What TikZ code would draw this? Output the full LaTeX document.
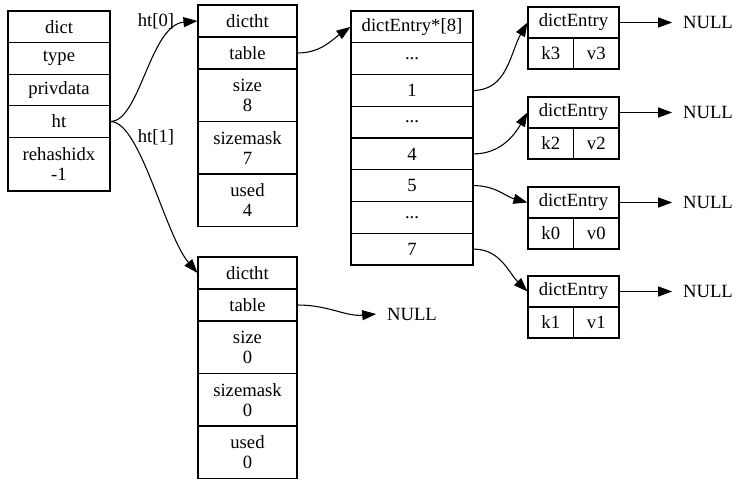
\documentclass[tikz,border=0pt]{standalone}
\usepackage{fontspec}
\setmainfont{Liberation Serif}
\usetikzlibrary{arrows.meta}

\begin{document}
\begin{tikzpicture}[x=0.75pt, y=-0.75pt, every node/.style={font=\fontsize{14}{15}\selectfont}]

		% Fix the page to the size of the drawing
		\useasboundingbox (0,0) rectangle (745,488);

		% Styles for the record fields and the pointers
		\tikzset{
			field/.style={draw, line width=0.8pt, inner sep=0pt, align=center},
			dictfield/.style={field, minimum width=76.5pt, minimum height=23.7pt},
			htfield/.style={field, minimum width=74.25pt, minimum height=24pt},
			htbig/.style={field, minimum width=74.25pt, minimum height=39.4pt},
			slot/.style={field, minimum width=91.5pt, minimum height=23.8pt},
			entryhead/.style={field, minimum width=68.25pt, minimum height=23.25pt},
			entrycell/.style={field, minimum width=34.1pt, minimum height=23.25pt},
			nullnode/.style={inner sep=8pt},
			pointer/.style={line width=0.8pt, -{Triangle[length=10.5pt, width=7.5pt]}}
		};

		% dict
		\node[dictfield] (dict-dict) at (59,26.8) {dict};
		\node[dictfield] (dict-type) at (59,58.4) {type};
		\node[dictfield] (dict-privdata) at (59,90) {privdata};
		\node[dictfield] (dict-ht) at (59,121.6) {ht};
		\node[dictfield, minimum height=40.2pt] (dict-rehash) at (59,164.2) {rehashidx\\-1};

		% dictht ht[0]
		\node[htfield] (ht0-head) at (247.5,21) {dictht};
		\node[htfield] (ht0-table) at (247.5,53) {table};
		\node[htbig] (ht0-size) at (247.5,95.25) {size\\8};
		\node[htbig] (ht0-mask) at (247.5,147.75) {sizemask\\7};
		\node[htbig] (ht0-used) at (247.5,200.25) {used\\4};

		% dictht ht[1]
		\node[htfield] (ht1-head) at (247.5,273) {dictht};
		\node[htfield] (ht1-table) at (247.5,305) {table};
		\node[htbig] (ht1-size) at (247.5,347.25) {size\\0};
		\node[htbig] (ht1-mask) at (247.5,399.75) {sizemask\\0};
		\node[htbig] (ht1-used) at (247.5,452.25) {used\\0};
		\node[nullnode] (ht1-null) at (412,314) {NULL};

		% dictEntry*[8] table
		\node[slot] (tab-head) at (412,26.9) {dictEntry*[8]};
		\node[slot] (tab-dots0) at (412,58.6) {...};
		\node[slot] (tab-1) at (412,90.4) {1};
		\node[slot] (tab-dots1) at (412,122.1) {...};
		\node[slot] (tab-4) at (412,153.9) {4};
		\node[slot] (tab-5) at (412,185.6) {5};
		\node[slot] (tab-dots2) at (412,217.4) {...};
		\node[slot] (tab-7) at (412,249.1) {7};

		% Entry k3/v3
		\node[entryhead] (e3-head) at (573.5,22.5) {dictEntry};
		\node[entrycell] (e3-key) at (550.75,53.5) {k3};
		\node[entrycell] (e3-val) at (596.25,53.5) {v3};
		\node[nullnode] (e3-null) at (708,22.5) {NULL};

		% Entry k2/v2
		\node[entryhead] (e2-head) at (573.5,112.5) {dictEntry};
		\node[entrycell] (e2-key) at (550.75,143.5) {k2};
		\node[entrycell] (e2-val) at (596.25,143.5) {v2};
		\node[nullnode] (e2-null) at (708,112.5) {NULL};

		% Entry k0/v0
		\node[entryhead] (e0-head) at (573.5,202.5) {dictEntry};
		\node[entrycell] (e0-key) at (550.75,233.5) {k0};
		\node[entrycell] (e0-val) at (596.25,233.5) {v0};
		\node[nullnode] (e0-null) at (708,202.5) {NULL};

		% Entry k1/v1
		\node[entryhead] (e1-head) at (573.5,291.5) {dictEntry};
		\node[entrycell] (e1-key) at (550.75,322.5) {k1};
		\node[entrycell] (e1-val) at (596.25,322.5) {v1};
		\node[nullnode] (e1-null) at (708,291.5) {NULL};

		% ht[0] and ht[1] pointers
		\draw[pointer] (dict-ht.east) .. controls (140,121) and (150,25) .. (ht0-head.west);
		\node (lbl-ht0) at (156,21) {ht[0]};
		\draw[pointer] (dict-ht.east) .. controls (140,121) and (165,235) .. (ht1-head.west);
		\node (lbl-ht1) at (156,137) {ht[1]};

		% table pointers
		\draw[pointer] (ht0-table.east) to[out=0, in=215] (tab-head.west);
		\draw[pointer] (ht1-table.east) to[out=0, in=185] (ht1-null.west);

		% buckets to entries
		\draw[pointer] (tab-1.east) to[out=0, in=240] (e3-head.west);
		\draw[pointer] (tab-4.east) to[out=0, in=240] (e2-head.west);
		\draw[pointer] (tab-5.east) to[out=0, in=165] (e0-head.west);
		\draw[pointer] (tab-7.east) to[out=0, in=135] (e1-head.west);

		% next pointers
		\draw[pointer] (e3-head.east) -- (e3-null.west);
		\draw[pointer] (e2-head.east) -- (e2-null.west);
		\draw[pointer] (e0-head.east) -- (e0-null.west);
		\draw[pointer] (e1-head.east) -- (e1-null.west);
	\end{tikzpicture}
\end{document}
